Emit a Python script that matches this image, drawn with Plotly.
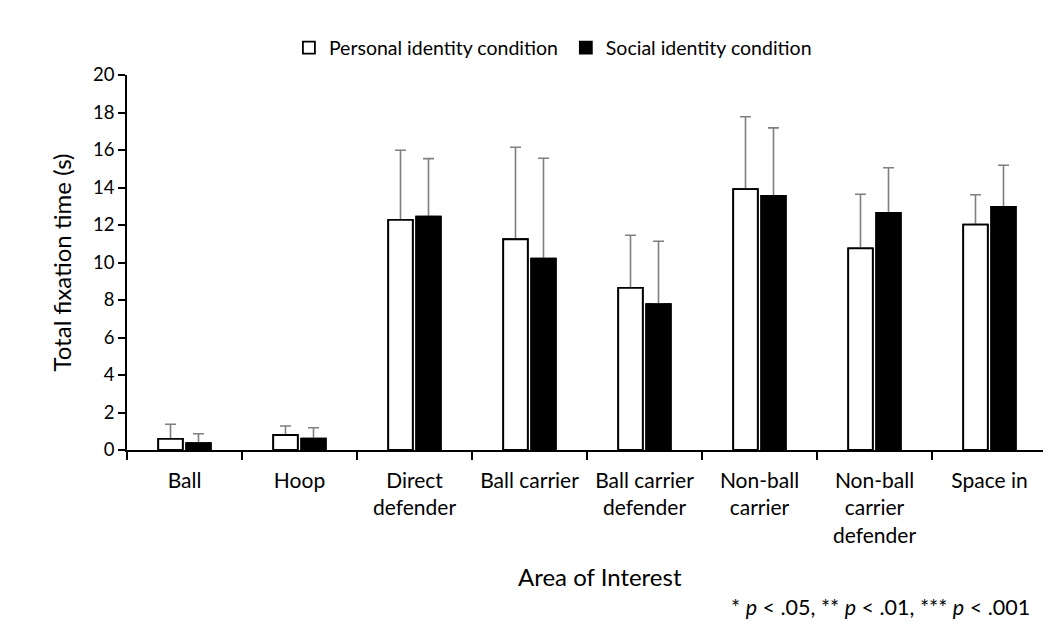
import plotly.graph_objects as go

categories = ["Ball", "Hoop", "Direct<br>defender", "Ball carrier", "Ball carrier<br>defender",
              "Non-ball<br>carrier", "Non-ball<br>carrier<br>defender", "Space in"]
personal_mean = [0.59, 0.80, 12.27, 11.24, 8.65, 13.91, 10.75, 12.02]
personal_top = [1.37, 1.28, 15.99, 16.15, 11.45, 17.77, 13.64, 13.61]
social_mean = [0.36, 0.60, 12.45, 10.20, 7.78, 13.55, 12.64, 12.97]
social_top = [0.87, 1.19, 15.54, 15.56, 11.13, 17.18, 15.05, 15.19]
series_names = ["Personal identity condition", "Social identity condition"]
y_ticks = list(range(0, 21, 2))

personal_err = [t - m for t, m in zip(personal_top, personal_mean)]
social_err = [t - m for t, m in zip(social_top, social_mean)]
zeros = [0] * len(categories)

FONT = "Lato"
fig = go.Figure()

def add(name, vals, err, color, group, show_err, legend):
    kw = {}
    if show_err:
        kw["error_y"] = dict(type="data", symmetric=False, array=err, arrayminus=zeros,
                             color="#7f7f7f", thickness=1.6, width=5.5)
    fig.add_trace(go.Bar(
        x=categories, y=vals, name=name, offsetgroup=group, legend=legend,
        marker=dict(color=color, line=dict(color="black", width=1.8)),
        showlegend=not show_err, hoverinfo="skip", **kw))

add(series_names[0], personal_mean, personal_err, "white", "p", True, "legend")
add(series_names[1], social_mean, social_err, "black", "s", True, "legend2")
add(series_names[0], personal_mean, personal_err, "white", "p", False, "legend")
add(series_names[1], social_mean, social_err, "black", "s", False, "legend2")

leg = dict(orientation="h", y=1.072, yanchor="middle", xanchor="left",
           font=dict(size=19.5, family=FONT), itemwidth=30, bgcolor="rgba(0,0,0,0)",
           borderwidth=0)

fig.update_layout(
    width=1043, height=627,
    margin=dict(l=119, r=4, t=67, b=185),
    paper_bgcolor="white", plot_bgcolor="white",
    barmode="group", bargap=0.513, bargroupgap=0.125,
    font=dict(family=FONT, size=21, color="black"),
    legend=dict(leg, x=0.176),
    legend2=dict(leg, x=0.477),
    xaxis=dict(showline=True, linecolor="black", linewidth=1.5, ticks="outside",
               tickson="boundaries", ticklen=8, tickcolor="black", tickwidth=1.5,
               ticklabelstandoff=11,
               showgrid=False, tickfont=dict(size=21), fixedrange=True),
    yaxis=dict(range=[0, 20], tickvals=y_ticks, showline=True, linecolor="black",
               linewidth=1.5, ticks="outside", ticklen=7, tickcolor="black", tickwidth=1.5,
               showgrid=False, zeroline=False, tickfont=dict(size=18.5)),
    annotations=[
        dict(text="Total fixation time (s)", xref="paper", yref="paper", x=-0.0717, y=0.5,
             textangle=-90, showarrow=False, font=dict(size=24), xanchor="center", yanchor="middle"),
        dict(text="Area of Interest", xref="paper", yref="paper", x=0.514, y=-0.336,
             showarrow=False, font=dict(size=24), xanchor="center", yanchor="middle"),
        dict(text="* <i>p</i> < .05, ** <i>p</i> < .01, *** <i>p</i> < .001", xref="paper", yref="paper",
             x=0.984, y=-0.419, showarrow=False, font=dict(size=21.5), xanchor="right", yanchor="middle"),
    ],
)

fig.write_html("out.html")
